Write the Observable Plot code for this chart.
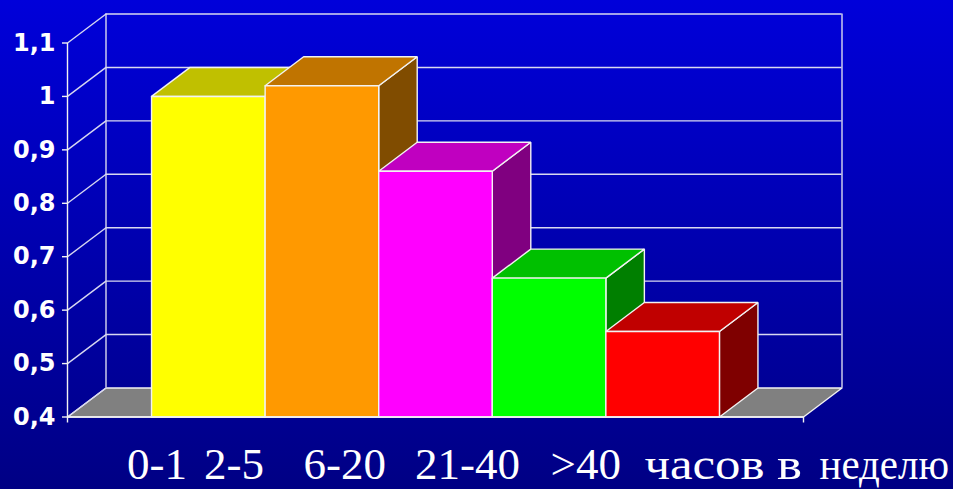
<!DOCTYPE html>
<html><head><meta charset="utf-8">
<script src="https://cdn.jsdelivr.net/npm/d3@7"></script>
<script src="https://cdn.jsdelivr.net/npm/@observablehq/plot@0.6"></script>
<style>
html,body{margin:0;padding:0;width:953px;height:489px;overflow:hidden;background:linear-gradient(to bottom,#0000da 0%,#000084 100%);}
#wrap{position:relative;width:953px;height:489px;}
#caption{position:absolute;left:0;top:432px;width:953px;height:57px;}
#caption svg{display:block;}
</style></head>
<body><div id="wrap"><div id="chart"></div><div id="caption"></div></div>
<script>
// ---- data ----
const categories = ["0-1", "2-5", "6-20", "21-40", ">40"];
const values = [1.00, 1.02, 0.86, 0.66, 0.56];
const unitLabel = "часов в неделю";
const frontColors = ["#ffff00", "#ff9900", "#ff00ff", "#00ff00", "#ff0000"];
const topColors   = ["#c0c000", "#c07400", "#c000c0", "#00c000", "#c00000"];
const sideColors  = ["#808000", "#804c00", "#800080", "#007f00", "#7f0000"];
const yTicks = [0.4, 0.5, 0.6, 0.7, 0.8, 0.9, 1.0, 1.1];
const yTickLabels = ["0,4", "0,5", "0,6", "0,7", "0,8", "0,9", "1", "1,1"];

// ---- layout ----
const W = 953, H = 432, mL = 67, mR = 150, mT = 42.5, mB = 15.5;
const GAP = 0.74;
const xMin = -GAP, xMax = categories.length + GAP;
const yMin = 0.4, yMax = 1.1;
const DX = 38.5, DY = -29;               // 3D depth offset in pixels
const kx = (W - mL - mR) / (xMax - xMin);
const ky = (H - mT - mB) / (yMax - yMin);
const DXU = DX / kx, DYU = -DY / ky;     // same depth in data units
const gridColor = "#d8d8f0";
const edgeColor = "#f2f2f2";

function poly(pts) { return pts.concat([pts[0]]).map(([x, y]) => ({x, y})); }

const marks = [];
// floor
marks.push(Plot.line(poly([[xMin, yMin], [xMax, yMin], [xMax + DXU, yMin + DYU], [xMin + DXU, yMin + DYU]]),
  {x: "x", y: "y", fill: "#808080", stroke: edgeColor, strokeWidth: 1.4}));
// back wall grid lines
marks.push(Plot.ruleY(yTicks.slice(1), {x1: xMin, x2: xMax, dx: DX, dy: DY, stroke: gridColor, strokeWidth: 1.4}));
marks.push(Plot.ruleX([xMin, xMax], {y1: yMin, y2: yMax, dx: DX, dy: DY, stroke: gridColor, strokeWidth: 1.4}));
// left wall diagonals
marks.push(Plot.link(yTicks, {x1: xMin, x2: xMin + DXU, y1: d => d, y2: d => d + DYU, stroke: gridColor, strokeWidth: 1.4}));
// front vertical axis line
marks.push(Plot.ruleX([xMin], {y1: yMin, y2: yMax, stroke: edgeColor, strokeWidth: 1.4}));

// bars
values.forEach((v, i) => {
  const a = i, b = i + 1;
  marks.push(Plot.line(poly([[b, yMin], [b + DXU, yMin + DYU], [b + DXU, v + DYU], [b, v]]),
    {x: "x", y: "y", fill: sideColors[i], stroke: edgeColor, strokeWidth: 1.4, strokeLinejoin: "miter"}));
  marks.push(Plot.line(poly([[a, v], [b, v], [b + DXU, v + DYU], [a + DXU, v + DYU]]),
    {x: "x", y: "y", fill: topColors[i], stroke: edgeColor, strokeWidth: 1.4, strokeLinejoin: "miter"}));
  marks.push(Plot.line(poly([[a, yMin], [b, yMin], [b, v], [a, v]]),
    {x: "x", y: "y", fill: frontColors[i], stroke: edgeColor, strokeWidth: 1.4, strokeLinejoin: "miter"}));
});

// baseline
marks.push(Plot.ruleY([yMin], {x1: xMin, x2: xMax, stroke: edgeColor, strokeWidth: 1.4}));
// axes
marks.push(Plot.axisY(yTicks, {
  tickSize: 5, tickPadding: 7, stroke: edgeColor, strokeWidth: 1.4,
  tickFormat: d => yTickLabels[yTicks.indexOf(d)],
  fontSize: 24, fontWeight: "bold", fontFamily: "DejaVu Sans", fill: "#ffffff", label: null
}));
marks.push(Plot.axisX([xMin, xMax], {tickSize: 6, stroke: edgeColor, strokeWidth: 1.4, tickFormat: () => "", label: null}));

const chart = Plot.plot({
  width: W, height: H,
  marginLeft: mL, marginRight: mR, marginTop: mT, marginBottom: mB,
  x: {domain: [xMin, xMax]},
  y: {domain: [yMin, yMax]},
  style: {background: "transparent", color: "#ffffff", overflow: "visible"},
  marks
});
document.getElementById("chart").appendChild(chart);

// caption (x labels text box, below the chart)
const tokens = categories.concat(unitLabel.split(" "));
const tokenLeft  = [127, 204, 303.5, 415, 550.5, 644.5, 777, 819.5];
const tokenWidth = [null, null, null, null, null, 120, 25, 129.5];
const cap = d3.select("#caption").append("svg").attr("width", 953).attr("height", 57);
tokens.forEach((t, i) => {
  const el = cap.append("text")
    .attr("x", 0).attr("y", 0)
    .attr("fill", "#ffffff")
    .style("font-family", "'Liberation Serif','Times New Roman',serif")
    .style("font-size", "45px")
    .text(t);
  let sx = 1;
  if (tokenWidth[i]) {
    const w = el.node().getComputedTextLength();
    if (w > 0) sx = tokenWidth[i] / w;
  }
  el.attr("transform", `translate(${tokenLeft[i]},47) scale(${sx},1)`);
});
</script>
</body></html>
